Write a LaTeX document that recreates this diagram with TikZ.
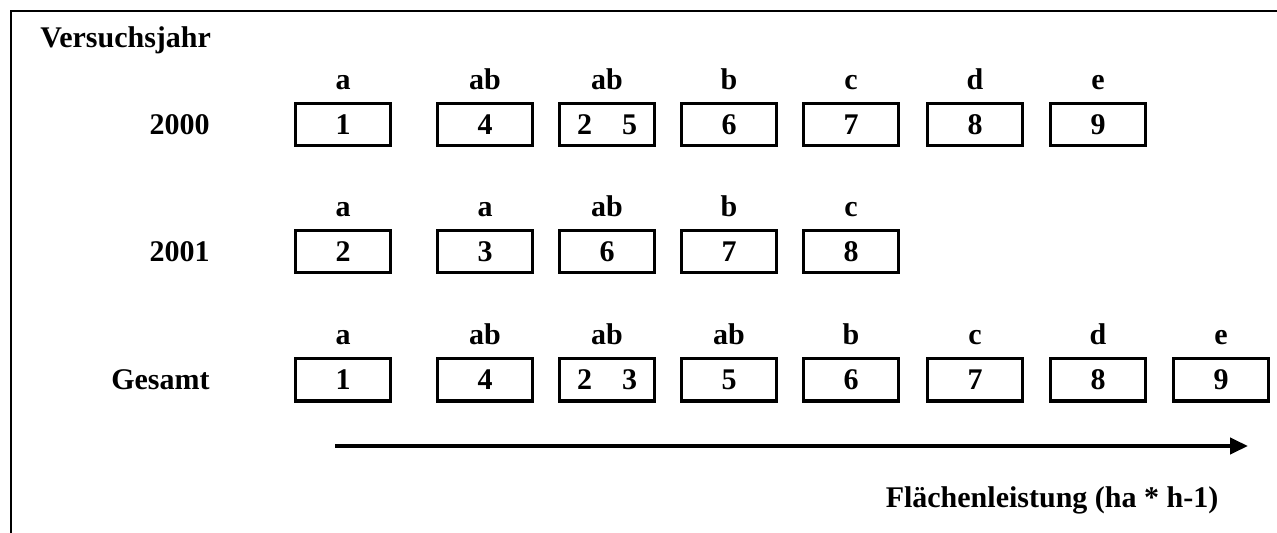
\documentclass[tikz,border=0pt]{standalone}
\usepackage{fontspec}
\setmainfont{Liberation Serif}
\usetikzlibrary{arrows.meta}

\begin{document}
\begin{tikzpicture}
  [x=0.5pt,y=-0.5pt,every node/.style={inner sep=0pt,font=\fontsize{15}{18}\selectfont\bfseries},
   box/.style={draw,line width=1.5pt,minimum width=47.5pt,minimum height=21pt},
   grp/.style={anchor=base},
   year/.style={anchor=east}]

  \useasboundingbox (0,0) rectangle (1277,533);
  \draw[line width=1pt] (1277,11) -- (11,11) -- (11,533);

  \node[anchor=base west] (title) at (40,48) {Versuchsjahr};

  % 2000
  \node[year] (y2000) at (210,125) {2000};
  \foreach \i/\x/\g/\v in {1/343/a/1,2/485/ab/4,3/607/ab/2\quad 5,4/729/b/6,5/851/c/7,6/975/d/8,7/1098/e/9}
  {
    \node[box] (b2000-\i) at (\x,125) {\v};
    \node[grp] (g2000-\i) at (\x,90) {\g};
  }

  % 2001
  \node[year] (y2001) at (210,252) {2001};
  \foreach \i/\x/\g/\v in {1/343/a/2,2/485/a/3,3/607/ab/6,4/729/b/7,5/851/c/8}
  {
    \node[box] (b2001-\i) at (\x,252) {\v};
    \node[grp] (g2001-\i) at (\x,217) {\g};
  }

  % Gesamt
  \node[year] (ges) at (210,380) {Gesamt};
  \foreach \i/\x/\g/\v in {1/343/a/1,2/485/ab/4,3/607/ab/2\quad 3,4/729/ab/5,5/851/b/6,6/975/c/7,7/1098/d/8,8/1221/e/9}
  {
    \node[box] (bges-\i) at (\x,380) {\v};
    \node[grp] (gges-\i) at (\x,345) {\g};
  }

  \coordinate (lo) at (335,446);
  \coordinate (hi) at (1248,446);
  \draw[line width=2pt,-{Triangle[length=9pt,width=8pt]}] (lo) -- (hi);
  \node[anchor=base] (axis) at (1052,507) {Flächenleistung (ha * h-1)};
\end{tikzpicture}
\end{document}
